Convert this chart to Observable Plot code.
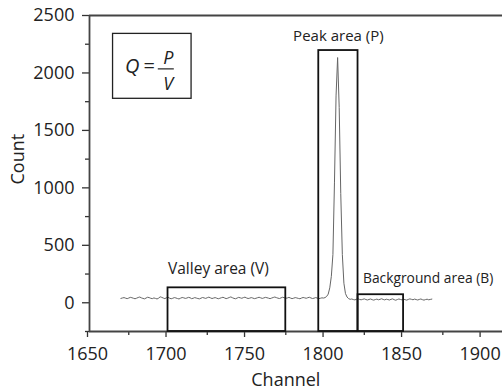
<!DOCTYPE html>
<html><head><meta charset="utf-8">
<script src="https://cdn.jsdelivr.net/npm/d3@7"></script>
<script src="https://cdn.jsdelivr.net/npm/@observablehq/plot@0.6"></script>
<style>body{margin:0;background:#fff}#chart svg{display:block}</style>
</head><body><div id="chart"></div>
<script>
// Spectrum: counts per channel, starting at channel 1670
const channelStart = 1670;
const counts = [
  38, 42, 45, 40, 36, 41, 47, 44, 39, 35,
  40, 46, 50, 43, 38, 34, 41, 48, 45, 39,
  36, 42, 38, 33, 40, 52, 47, 41, 36, 44,
  48, 40, 35, 39, 45, 42, 37, 33, 40, 46,
  43, 38, 41, 47, 44, 36, 39, 45, 41, 37,
  34, 40, 46, 42, 38, 44, 49, 43, 37, 41,
  45, 40, 35, 39, 44, 48, 42, 36, 40, 46,
  51, 44, 38, 35, 41, 47, 43, 39, 45, 49,
  42, 37, 40, 45, 41, 36, 39, 44, 48, 43,
  38, 42, 47, 44, 40, 36, 41, 46, 50, 45,
  40, 37, 43, 48, 44, 39, 42, 47, 41, 36,
  40, 45, 42, 38, 35, 41, 46, 43, 39, 44,
  48, 42, 37, 40, 45, 41, 36, 39, 43, 41,
  45, 55, 75, 130, 230, 420, 1050, 1800, 2134, 1700,
  950, 420, 170, 80, 50, 36,
  30, 33, 28, 25, 31, 35, 29, 26, 30, 34, 28, 24, 29, 33,
  27, 23, 28, 32, 26, 30, 35, 29, 25, 31,
  28, 24, 30, 34, 27, 22, 28, 33, 29, 25,
  31, 27, 23, 29, 34, 30, 26, 32, 28, 24,
  29, 33, 27, 23, 28, 31, 26, 29, 32
];

// Axes
const xTicks = [1650, 1700, 1750, 1800, 1850, 1900];
const xMinorTicks = [1675, 1725, 1775, 1825, 1875];
const yTicks = [0, 500, 1000, 1500, 2000, 2500];
const yMinorTicks = [-250, 250, 750, 1250, 1750, 2250];
const xDomain = [1650, 1920];
const yDomain = [-250, 2500];

// Regions
const regionNames = ["Valley area (V)", "Peak area (P)", "Background area (B)"];
const regionStart = [1700, 1796, 1821];
const regionEnd = [1775, 1821, 1850];
const regionTop = [130, 2195, 70];

// Formula box (channel / count extents)
const formulaX = [1665, 1715];
const formulaY = [1775, 2340];

const spectrum = counts.map((c, i) => ({channel: channelStart + i, count: c}));
const regions = regionNames.map((name, i) => ({name, x1: regionStart[i], x2: regionEnd[i], top: regionTop[i]}));
const fx = (formulaX[0] + formulaX[1]) / 2;
const fy = (formulaY[0] + formulaY[1]) / 2;
const font = "'Open Sans', sans-serif";
const ink = "#222";
const noLabel = () => "";

const plot = Plot.plot({
  width: 502,
  height: 391,
  marginLeft: 89,
  marginRight: -11,
  marginTop: 15,
  marginBottom: 60,
  style: {fontFamily: font, background: "#fff", color: ink},
  x: {domain: xDomain, label: null},
  y: {domain: yDomain, label: null},
  marks: [
    Plot.axisX({ticks: xTicks, tickSize: 6, tickPadding: 10, tickFormat: "d", fontSize: 18, dx: -2, stroke: "#333", strokeWidth: 1.3, fill: ink}),
    Plot.axisX({ticks: xMinorTicks, tickSize: 4, tickFormat: noLabel, stroke: "#333", strokeWidth: 1.3}),
    Plot.axisY({ticks: yTicks, tickSize: 7, tickPadding: 8, tickFormat: "d", fontSize: 18, stroke: "#333", strokeWidth: 1.3, fill: ink}),
    Plot.axisY({ticks: yMinorTicks, tickSize: 4, tickFormat: noLabel, stroke: "#333", strokeWidth: 1.3}),
    Plot.ruleY([yDomain[0], yDomain[1]], {stroke: "#444", strokeWidth: 1.8}),
    Plot.ruleX([xDomain[0]], {y1: yDomain[0], y2: yDomain[1], stroke: "#444", strokeWidth: 1.8}),
    Plot.line(spectrum, {x: "channel", y: "count", stroke: "#666", strokeWidth: 1}),
    Plot.rect(regions, {x1: "x1", x2: "x2", y1: yDomain[0], y2: "top", fill: "none", stroke: "#111", strokeWidth: 1.8}),
    Plot.text([regions[0]], {x: "x1", y: "top", text: "name", textAnchor: "start", dy: -19, fontSize: 15.5, fill: ink}),
    Plot.text([regions[1]], {x: d => (d.x1 + d.x2) / 2, y: "top", text: "name", textAnchor: "middle", dy: -14, fontSize: 15, fill: ink}),
    Plot.text([regions[2]], {x: "x1", y: "top", text: "name", textAnchor: "start", dx: 5, dy: -16, fontSize: 13.8, fill: ink}),
    Plot.rect([0], {x1: formulaX[0], x2: formulaX[1], y1: formulaY[0], y2: formulaY[1], fill: "none", stroke: ink, strokeWidth: 1.3}),
    Plot.text(["Q"], {x: fx, y: fy, text: d => d, dx: -20, dy: 0, fontSize: 20, fontStyle: "italic", fill: ink}),
    Plot.text(["="], {x: fx, y: fy, text: d => d, dx: -3, dy: 0, fontSize: 20, fill: ink}),
    Plot.text(["P"], {x: fx, y: fy, text: d => d, dx: 16, dy: -8, fontSize: 18, fontStyle: "italic", fill: ink}),
    Plot.text(["V"], {x: fx, y: fy, text: d => d, dx: 16, dy: 18, fontSize: 18, fontStyle: "italic", fill: ink}),
    Plot.ruleY([fy - 22], {x1: fx + 3.8, x2: fx + 14, stroke: ink, strokeWidth: 1.2}),
    Plot.text(["Count"], {x: xDomain[0], y: 1250, text: d => d, rotate: -90, dx: -71, fontSize: 18, fill: ink}),
    Plot.text(["Channel"], {x: 1775, y: yDomain[0], text: d => d, dy: 49, fontSize: 18, fill: ink})
  ]
});
document.getElementById("chart").appendChild(plot);
</script>
</body></html>
